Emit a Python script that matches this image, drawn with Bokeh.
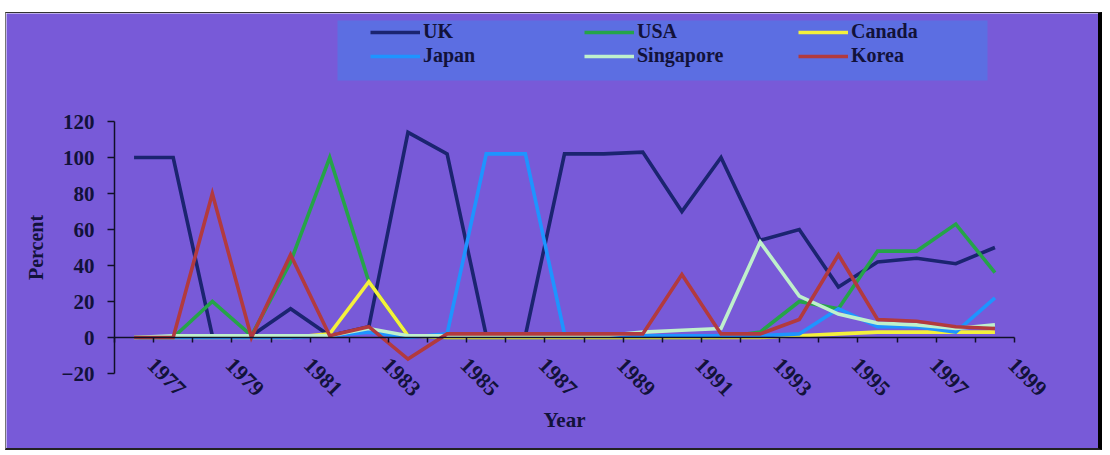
import math
from bokeh.plotting import figure
from bokeh.models import (Range1d, LinearAxis, FixedTicker, Legend, LegendItem,
                          BoxAnnotation)
from bokeh.embed import file_html
from bokeh.resources import INLINE

years = list(range(1977, 2000))
uk        = [100, 100, 1, 1, 16, 1, 6, 114, 102, 1, 1, 102, 102, 103, 70, 100, 54, 60, 28, 42, 44, 41, 50]
usa       = [0, 0, 20, 1, 42, 100, 31, 1, 0, 0, 0, 0, 0, 0, 0, 0, 3, 20, 16, 48, 48, 63, 36]
canada    = [0, 0, 0, 0, 0, 2, 31, 1, 0, 0, 0, 0, 0, 0, 0, 0, 0, 1, 2, 3, 3, 3, 3]
japan     = [0, 0, 0, 0, 0, 1, 3, 0, 2, 102, 102, 2, 1, 1, 1, 1, 1, 2, 16, 6, 6, 3, 22]
singapore = [0, 1, 1, 1, 1, 1, 5, 1, 1, 1, 1, 1, 1, 3, 4, 5, 53, 23, 13, 8, 7, 5, 7]
korea     = [0, 0, 80, 0, 46, 1, 6, -12, 2, 2, 2, 2, 2, 2, 35, 2, 2, 10, 46, 10, 9, 6, 5]

series_names = ["UK", "USA", "Canada", "Japan", "Singapore", "Korea"]
series_vals = [uk, usa, canada, japan, singapore, korea]
colors = ["#1b2470", "#25a448", "#f4f03c", "#1e94ff", "#bff0cc", "#b23a3e"]

y_ticks = [-20, 0, 20, 40, 60, 80, 100, 120]
x_label_years = list(range(1977, 2000, 2))

BG = "#785ad8"
LEG_BG = "#5c6ee2"
TXT = "#12123a"
FONT = "Liberation Serif"

# canvas geometry (pixels)
W, H = 1097, 438
PX_PER_YEAR = 900 / 23.0
PX_PER_PCT = 1.8
x0 = years[0] - 0.5 - 108 / PX_PER_YEAR
x1 = years[-1] + 0.5 + (W - 108 - 900) / PX_PER_YEAR
y1 = 120 + 108 / PX_PER_PCT
y0 = -20 - (H - 108 - 252) / PX_PER_PCT

p = figure(width=W, height=H, output_backend="svg", toolbar_location=None,
           x_range=Range1d(x0, x1), y_range=Range1d(y0, y1),
           x_axis_type=None, y_axis_location=None,
           min_border=0)
p.margin = (12, 0, 0, 5)
p.styles = {"border-right": "4px solid #000", "border-bottom": "2px solid #222",
            "border-top": "1px solid #333", "border-left": "1px solid #777"}
p.background_fill_color = BG
p.border_fill_color = BG
p.outline_line_color = None
p.grid.visible = False

# y axis
yax = LinearAxis(fixed_location=years[0] - 0.5, bounds=(-20, 120),
                 ticker=FixedTicker(ticks=y_ticks, minor_ticks=[]))
yax.axis_label = "Percent"
yax.axis_label_text_font = FONT
yax.axis_label_text_font_style = "bold"
yax.axis_label_text_font_size = "20px"
yax.axis_label_text_color = TXT
yax.axis_label_standoff = 12
yax.major_label_text_font = FONT
yax.major_label_text_font_style = "bold"
yax.major_label_text_font_size = "21px"
yax.major_label_text_color = TXT
yax.major_label_standoff = 13
yax.major_tick_out = 7
yax.major_tick_in = 0
yax.minor_tick_out = 0
yax.minor_tick_in = 0
yax.axis_line_color = "#101028"
yax.axis_line_width = 1.5
yax.major_tick_line_color = "#101028"
yax.major_tick_line_width = 1.5
p.add_layout(yax, "left")

# x axis at y = 0
label_shift = 0.43
xax = LinearAxis(fixed_location=0, bounds=(years[0] - 0.5, years[-1] + 0.5),
                 ticker=FixedTicker(ticks=[y + label_shift for y in x_label_years],
                                    minor_ticks=[y - 0.5 for y in years] + [years[-1] + 0.5]))
xax.major_label_overrides = {y + label_shift: str(y) for y in x_label_years}
xax.axis_label = "Year"
xax.axis_label_text_font = FONT
xax.axis_label_text_font_style = "bold"
xax.axis_label_text_font_size = "21px"
xax.axis_label_text_color = TXT
xax.axis_label_standoff = 2
xax.major_label_text_font = FONT
xax.major_label_text_font_style = "bold"
xax.major_label_text_font_size = "22px"
xax.major_label_text_color = TXT
xax.major_label_orientation = -math.pi / 4
xax.major_label_standoff = 19
xax.major_tick_out = 0
xax.major_tick_in = 0
xax.minor_tick_out = 5
xax.minor_tick_in = 0
xax.axis_line_color = "#101028"
xax.axis_line_width = 1.5
xax.minor_tick_line_color = "#101028"
xax.minor_tick_line_width = 1.5
p.add_layout(xax, "below")

legend_box = BoxAnnotation(left=330, right=980, top=6, bottom=66,
                           left_units="canvas", right_units="canvas",
                           top_units="canvas", bottom_units="canvas",
                           fill_color=LEG_BG, fill_alpha=1, line_color=None,
                           level="underlay")
p.add_layout(legend_box)

renderers = {}
for name, vals, col in zip(series_names, series_vals, colors):
    r = p.line(years, vals, line_color=col, line_width=3.6, line_join="miter")
    renderers[name] = r

items = [LegendItem(label=n, renderers=[renderers[n]]) for n in series_names]
leg = Legend(items=items, location=(364, H - 54), orientation="horizontal", ncols=3,
             padding=0, margin=0, spacing=1,
             glyph_width=50, glyph_height=22, label_height=22, label_width=160,
             label_standoff=3,
             label_text_font=FONT, label_text_font_style="bold",
             label_text_font_size="20px", label_text_color=TXT,
             background_fill_alpha=0, border_line_alpha=0)
p.add_layout(leg, "center")

open("out.html", "w").write(file_html(p, INLINE))
